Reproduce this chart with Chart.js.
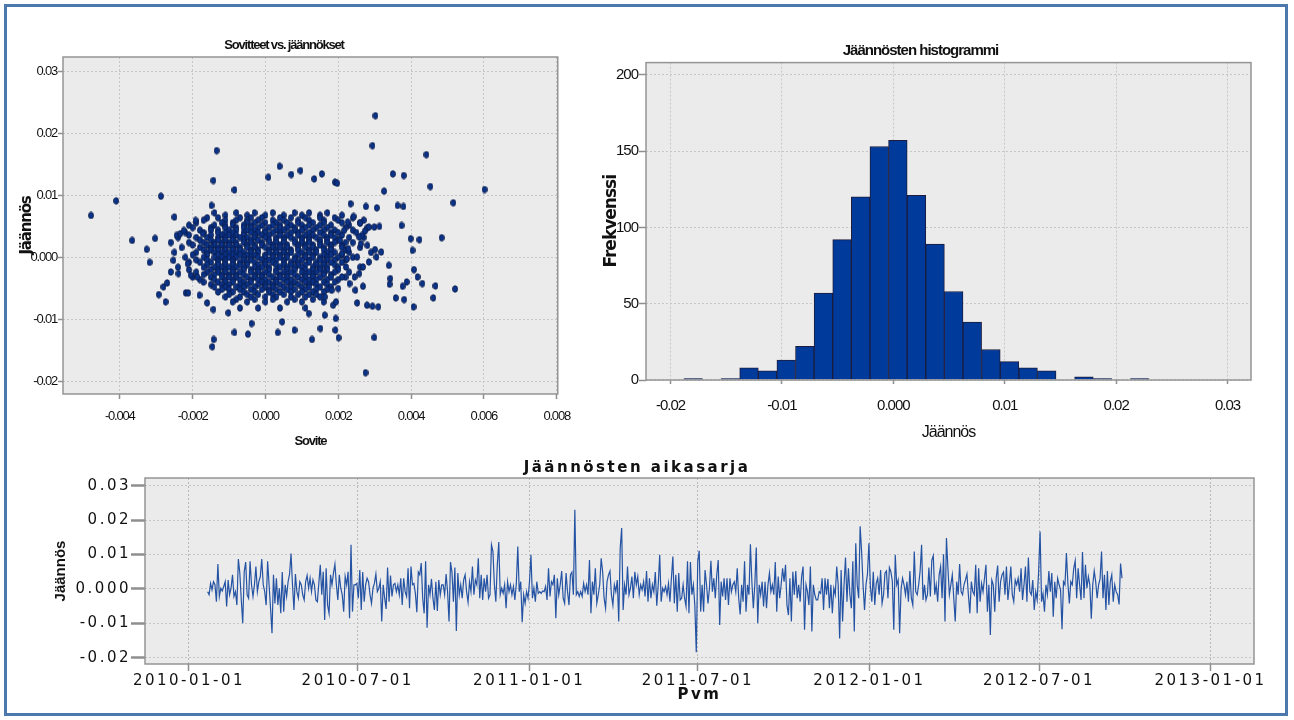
<!DOCTYPE html>
<html lang="fi">
<head>
    <meta charset="UTF-8">
    <title>Jäännösdiagnostiikka</title>
    <script src="https://cdn.jsdelivr.net/npm/chart.js"></script>
    <style>
        body {
            margin: 0;
            background: #fff;
            width: 1294px;
            height: 720px;
            overflow: hidden;
            position: relative;
        }

        #frame {
            position: absolute;
            left: 4px;
            top: 4px;
            width: 1278px;
            height: 706px;
            border: 3px solid #4b78ad;
        }

        canvas {
            position: absolute;
        }

        #scatterChart { left: 10px; top: 30px; }
        #histChart { left: 590px; top: 30px; }
        #seriesChart { left: 20px; top: 452px; }
    </style>
</head>
<body>
    <div id="frame"></div>
    <canvas id="scatterChart" width="570" height="430"></canvas>
    <canvas id="histChart" width="690" height="420"></canvas>
    <canvas id="seriesChart" width="1258" height="258"></canvas>

    <script>
        // --- Sovitteet vs. jäännökset: rows of the dense core (y value, x values) ---
        const scatterRowY = [0.0072, 0.0068, 0.0064, 0.0060, 0.0056, 0.0052, 0.0048, 0.0044, 0.0040, 0.0036,
            0.0032, 0.0028, 0.0024, 0.0020, 0.0016, 0.0012, 0.0008, 0.0004, 0.0000, -0.0004,
            -0.0008, -0.0012, -0.0016, -0.0020, -0.0024, -0.0028, -0.0032, -0.0036, -0.0040, -0.0044,
            -0.0048, -0.0052, -0.0056, -0.0060, -0.0064, -0.0068, -0.0072, -0.0082];
        const scatterRowX = [
            [-0.0014, -0.0008, -0.0003, 0.0002, 0.0008, 0.0012, 0.0017],
            [-0.0011, -0.0005, 0.0000, 0.0005, 0.0010, 0.0015, 0.0021],
            [-0.0016, -0.0013, -0.0007, -0.0004, -0.0001, 0.0004, 0.0007, 0.0011, 0.0015, 0.0019, 0.0024],
            [-0.0017, -0.0011, -0.0008, -0.0005, -0.0002, 0.0002, 0.0005, 0.0009, 0.0012, 0.0016, 0.0020, 0.0027],
            [-0.0019, -0.0012, -0.0009, -0.0005, -0.0003, 0.0000, 0.0003, 0.0006, 0.0009, 0.0013, 0.0016, 0.0021, 0.0026],
            [-0.0021, -0.0014, -0.0011, -0.0009, -0.0006, -0.0004, -0.0001, 0.0002, 0.0004, 0.0007, 0.0010, 0.0012, 0.0015, 0.0018, 0.0023],
            [-0.0020, -0.0015, -0.0011, -0.0008, -0.0006, -0.0004, -0.0002, 0.0001, 0.0004, 0.0006, 0.0008, 0.0011, 0.0014, 0.0017, 0.0022, 0.0028],
            [-0.0018, -0.0015, -0.0013, -0.0010, -0.0008, -0.0005, -0.0003, 0.0000, 0.0003, 0.0005, 0.0008, 0.0010, 0.0013, 0.0016, 0.0019, 0.0024],
            [-0.0022, -0.0017, -0.0013, -0.0011, -0.0009, -0.0006, -0.0004, -0.0002, 0.0000, 0.0002, 0.0004, 0.0007, 0.0009, 0.0012, 0.0015, 0.0018, 0.0020, 0.0025],
            [-0.0021, -0.0015, -0.0012, -0.0010, -0.0008, -0.0006, -0.0003, -0.0001, 0.0001, 0.0004, 0.0006, 0.0009, 0.0011, 0.0013, 0.0016, 0.0018, 0.0021],
            [-0.0024, -0.0019, -0.0016, -0.0013, -0.0011, -0.0009, -0.0007, -0.0005, -0.0003, 0.0000, 0.0003, 0.0005, 0.0007, 0.0010, 0.0012, 0.0014, 0.0017, 0.0019, 0.0023, 0.0027],
            [-0.0018, -0.0015, -0.0013, -0.0011, -0.0009, -0.0006, -0.0004, -0.0002, 0.0001, 0.0003, 0.0005, 0.0008, 0.0010, 0.0012, 0.0015, 0.0017, 0.0020],
            [-0.0026, -0.0021, -0.0017, -0.0014, -0.0012, -0.0010, -0.0008, -0.0006, -0.0004, -0.0001, 0.0001, 0.0003, 0.0005, 0.0008, 0.0010, 0.0012, 0.0015, 0.0017, 0.0019, 0.0022, 0.0024],
            [-0.0020, -0.0016, -0.0014, -0.0012, -0.0010, -0.0008, -0.0005, -0.0003, -0.0001, 0.0002, 0.0004, 0.0006, 0.0009, 0.0011, 0.0013, 0.0015, 0.0018, 0.0021],
            [-0.0023, -0.0018, -0.0015, -0.0013, -0.0011, -0.0009, -0.0007, -0.0005, -0.0003, 0.0000, 0.0002, 0.0004, 0.0006, 0.0009, 0.0011, 0.0013, 0.0016, 0.0018, 0.0021, 0.0026],
            [-0.0017, -0.0015, -0.0013, -0.0011, -0.0009, -0.0007, -0.0004, -0.0002, 0.0001, 0.0003, 0.0005, 0.0007, 0.0009, 0.0012, 0.0014, 0.0016, 0.0018, 0.0022],
            [-0.0025, -0.0019, -0.0016, -0.0014, -0.0012, -0.0010, -0.0008, -0.0006, -0.0004, -0.0002, 0.0001, 0.0003, 0.0005, 0.0007, 0.0010, 0.0012, 0.0014, 0.0017, 0.0019, 0.0023, 0.0029],
            [-0.0020, -0.0016, -0.0013, -0.0011, -0.0009, -0.0007, -0.0005, -0.0003, 0.0000, 0.0002, 0.0004, 0.0006, 0.0009, 0.0011, 0.0013, 0.0016, 0.0018, 0.0021],
            [-0.0022, -0.0017, -0.0014, -0.0012, -0.0010, -0.0008, -0.0006, -0.0004, -0.0002, 0.0000, 0.0002, 0.0004, 0.0006, 0.0008, 0.0011, 0.0013, 0.0015, 0.0017, 0.0020, 0.0024],
            [-0.0019, -0.0016, -0.0013, -0.0011, -0.0009, -0.0006, -0.0004, -0.0001, 0.0001, 0.0003, 0.0005, 0.0008, 0.0010, 0.0012, 0.0015, 0.0017, 0.0019, 0.0022],
            [-0.0021, -0.0018, -0.0015, -0.0013, -0.0011, -0.0009, -0.0007, -0.0005, -0.0003, 0.0000, 0.0002, 0.0005, 0.0007, 0.0009, 0.0012, 0.0014, 0.0016, 0.0018, 0.0021],
            [-0.0016, -0.0013, -0.0011, -0.0009, -0.0007, -0.0005, -0.0002, 0.0000, 0.0003, 0.0005, 0.0007, 0.0009, 0.0011, 0.0014, 0.0016, 0.0019],
            [-0.0024, -0.0017, -0.0014, -0.0012, -0.0010, -0.0008, -0.0006, -0.0003, -0.0001, 0.0001, 0.0004, 0.0006, 0.0008, 0.0010, 0.0013, 0.0015, 0.0017, 0.0020, 0.0026],
            [-0.0021, -0.0015, -0.0013, -0.0011, -0.0009, -0.0006, -0.0004, -0.0002, 0.0001, 0.0003, 0.0006, 0.0008, 0.0011, 0.0013, 0.0015, 0.0017, 0.0020],
            [-0.0019, -0.0016, -0.0013, -0.0011, -0.0009, -0.0007, -0.0004, -0.0002, 0.0000, 0.0003, 0.0005, 0.0007, 0.0010, 0.0012, 0.0014, 0.0016, 0.0019, 0.0023],
            [-0.0017, -0.0014, -0.0012, -0.0010, -0.0008, -0.0006, -0.0003, -0.0001, 0.0001, 0.0004, 0.0006, 0.0008, 0.0011, 0.0013, 0.0016, 0.0018],
            [-0.0020, -0.0015, -0.0012, -0.0010, -0.0008, -0.0005, -0.0003, -0.0001, 0.0002, 0.0004, 0.0006, 0.0009, 0.0011, 0.0013, 0.0015, 0.0018, 0.0022],
            [-0.0018, -0.0014, -0.0011, -0.0009, -0.0007, -0.0004, -0.0002, 0.0000, 0.0003, 0.0005, 0.0007, 0.0010, 0.0012, 0.0014, 0.0017, 0.0020],
            [-0.0017, -0.0013, -0.0011, -0.0009, -0.0006, -0.0004, -0.0001, 0.0001, 0.0003, 0.0006, 0.0008, 0.0011, 0.0013, 0.0016, 0.0019],
            [-0.0015, -0.0012, -0.0010, -0.0007, -0.0005, -0.0002, 0.0000, 0.0002, 0.0004, 0.0007, 0.0009, 0.0012, 0.0014, 0.0017],
            [-0.0014, -0.0011, -0.0008, -0.0006, -0.0003, 0.0000, 0.0002, 0.0005, 0.0007, 0.0010, 0.0012, 0.0015, 0.0018],
            [-0.0012, -0.0010, -0.0007, -0.0004, -0.0001, 0.0001, 0.0003, 0.0006, 0.0008, 0.0011, 0.0014, 0.0017],
            [-0.0013, -0.0009, -0.0006, -0.0003, 0.0001, 0.0004, 0.0007, 0.0010, 0.0013, 0.0016],
            [-0.0010, -0.0005, -0.0002, 0.0002, 0.0005, 0.0009, 0.0012, 0.0014],
            [-0.0011, -0.0007, -0.0004, 0.0000, 0.0003, 0.0007, 0.0011, 0.0015],
            [-0.0008, -0.0003, 0.0002, 0.0008, 0.0013],
            [-0.0009, -0.0005, 0.0000, 0.0006, 0.0010, 0.0016],
            [-0.0007, -0.0002, 0.0004, 0.0011]
        ];
        // scattered points outside the core [sovite, jäännös]
        const scatterOutliers = [
            [-0.00479, 0.00677], [-0.00410, 0.00914], [-0.00366, 0.00274], [-0.00326, 0.00129], [-0.00318, -0.00081],
            [-0.00303, 0.00306], [-0.00287, 0.00989], [-0.00293, -0.00602], [-0.00274, -0.00720], [-0.00280, -0.00478],
            [-0.00270, -0.00414], [-0.00250, 0.00651], [-0.00260, -0.00237], [-0.00253, -0.00048], [-0.00244, 0.00355],
            [-0.00239, -0.00263], [-0.00234, 0.00382], [-0.00224, 0.00435], [-0.00219, -0.00575], [-0.00212, -0.00575],
            [-0.00214, -0.00102], [-0.00205, -0.00290], [-0.00192, 0.00597], [-0.00187, -0.00317], [-0.00181, -0.00613],
            [-0.00172, 0.00382], [-0.00160, -0.00737], [-0.00143, 0.01242], [-0.00134, 0.01726], [-0.00148, 0.00839],
            [-0.00143, -0.00844], [-0.00142, -0.01328], [-0.00146, -0.01446], [-0.00102, -0.00898], [-0.00085, -0.01215],
            [-0.00085, 0.01091], [-0.00048, -0.01242], [-0.00038, -0.01070], [0.00008, 0.01296], [0.00039, 0.01473],
            [0.00034, -0.01215], [0.00046, -0.01043], [0.00071, 0.01339], [0.00080, -0.01177], [0.00096, 0.01403],
            [0.00119, -0.00909], [0.00128, -0.01328], [0.00134, 0.01269], [0.00155, 0.01349], [0.00151, -0.01151],
            [0.00163, -0.00935], [0.00191, 0.01215], [0.00197, 0.01199], [0.00192, -0.01177], [0.00201, -0.01301],
            [0.00193, -0.00989], [0.00186, -0.00774], [0.00234, 0.00866], [0.00275, -0.01866], [0.00276, 0.00823],
            [0.00294, 0.01806], [0.00302, 0.02290], [0.00306, 0.00801], [0.00326, 0.01070], [0.00299, -0.01296],
            [0.00279, -0.00774], [0.00294, -0.00790], [0.00310, -0.00801], [0.00350, 0.01349], [0.00380, 0.01323],
            [0.00363, 0.00839], [0.00379, 0.00823], [0.00374, 0.00516], [0.00399, 0.00301], [0.00404, 0.00113],
            [0.00423, 0.00285], [0.00408, -0.00199], [0.00418, -0.00317], [0.00407, -0.00801], [0.00388, -0.00398],
            [0.00377, -0.00468], [0.00358, -0.00656], [0.00381, -0.00683], [0.00431, -0.00425], [0.00442, 0.01661],
            [0.00453, 0.01145], [0.00467, -0.00462], [0.00461, -0.00656], [0.00484, 0.00317], [0.00516, 0.00882],
            [0.00521, -0.00511], [0.00602, 0.01097], [0.00339, -0.00129], [0.00343, -0.00344], [0.00341, -0.00435],
            [0.00318, 0.00086], [0.00313, 0.00500], [0.00299, 0.00489], [0.00284, 0.00489], [0.00273, 0.00425],
            [0.00265, 0.00355], [0.00258, 0.00328], [0.00262, 0.00220], [0.00280, 0.00194], [0.00301, 0.00124],
            [0.00305, 0.00005], [0.00284, -0.00075], [0.00268, -0.00156], [0.00258, -0.00263], [0.00245, -0.00317],
            [0.00268, -0.00468], [0.00247, -0.00532], [0.00231, -0.00425], [0.00224, -0.00022], [0.00228, 0.00140],
            [0.00226, 0.00570], [0.00216, 0.00435], [0.00205, 0.00274], [0.00210, 0.00059], [0.00221, -0.00156],
            [0.00210, -0.00317], [0.00200, -0.00505], [0.00252, -0.00737], [0.00252, 0.00005], [0.00242, 0.00661],
            [0.00260, 0.00554], [0.00182, -0.00532], [0.00194, -0.00720], [0.00163, -0.00640]
        ];
        const scatterXTicks = [-0.004, -0.002, 0, 0.002, 0.004, 0.006, 0.008];
        const scatterXLabels = ['-0.004', '-0.002', '0.000', '0.002', '0.004', '0.006', '0.008'];
        const scatterYTicks = [-0.02, -0.01, 0, 0.01, 0.02, 0.03];
        const scatterYLabels = ['-0.02', '-0.01', '0.000', '0.01', '0.02', '0.03'];

        // --- Jäännösten histogrammi ---
        const histFirstEdge = -0.0188;
        const histBinWidth = 0.00167;
        const histCounts = [1, 0, 1, 8, 6, 13, 22, 57, 92, 120, 153, 157, 121, 89, 58, 38, 20, 12, 8, 6, 0, 2, 1, 0, 1];
        const histXTicks = [-0.02, -0.01, 0, 0.01, 0.02, 0.03];
        const histXLabels = ['-0.02', '-0.01', '0.000', '0.01', '0.02', '0.03'];
        const histYTicks = [0, 50, 100, 150, 200];

        // --- Jäännösten aikasarja ---
        const seriesStart = '2010-01-21';
        const seriesEnd = '2012-09-28';
        const seriesResiduals = [
            -0.0008, -0.0017, 0.0016, -0.0003, 0.0021, 0.0012, -0.0037, 0.0072, -0.0022, 0.0002,
            -0.0006, 0.0007, 0.0021, -0.0051, 0.0026, -0.0017, 0.0002, 0.0041, -0.0022, -0.0008,
            -0.0047, 0.0087, 0.0046, -0.0032, -0.0100, 0.0050, 0.0078, -0.0017, -0.0027, 0.0080,
            0.0012, -0.0022, 0.0012, 0.0065, -0.0008, 0.0021, 0.0036, 0.0087, 0.0012, -0.0008,
            -0.0047, 0.0080, 0.0012, -0.0056, -0.0129, 0.0041, -0.0042, 0.0031, -0.0047, 0.0002,
            -0.0071, 0.0049, -0.0066, 0.0012, -0.0022, 0.0021, 0.0043, 0.0103, 0.0012, -0.0061,
            0.0043, -0.0008, -0.0027, 0.0021, 0.0012, -0.0017, -0.0032, 0.0021, 0.0039, 0.0002,
            0.0031, -0.0008, 0.0026, 0.0012, -0.0032, -0.0037, 0.0016, 0.0070, -0.0017, 0.0050,
            -0.0090, 0.0060, -0.0047, -0.0071, 0.0041, 0.0012, 0.0046, 0.0072, 0.0012, -0.0032,
            0.0041, 0.0002, -0.0017, -0.0066, 0.0036, 0.0012, 0.0050, -0.0085, 0.0128, -0.0066,
            0.0012, 0.0012, 0.0016, -0.0027, 0.0055, -0.0061, 0.0049, -0.0037, 0.0012, 0.0031,
            0.0021, -0.0017, -0.0042, 0.0002, 0.0016, 0.0043, -0.0008, 0.0002, 0.0021, -0.0095,
            0.0012, -0.0027, -0.0058, 0.0062, -0.0037, 0.0039, -0.0022, 0.0012, 0.0016, -0.0008,
            0.0012, -0.0017, 0.0031, -0.0047, 0.0031, -0.0008, -0.0022, 0.0060, -0.0056, 0.0065,
            0.0012, 0.0016, -0.0013, -0.0068, 0.0049, 0.0041, 0.0075, -0.0027, -0.0071, 0.0080,
            -0.0113, 0.0012, -0.0017, 0.0029, -0.0027, -0.0061, 0.0021, -0.0064, 0.0026, -0.0017,
            0.0012, 0.0012, -0.0017, 0.0043, -0.0008, -0.0095, 0.0078, 0.0049, -0.0037, 0.0062,
            -0.0122, 0.0046, -0.0017, 0.0012, -0.0027, 0.0026, 0.0041, -0.0008, -0.0039, 0.0021,
            -0.0008, 0.0065, -0.0017, 0.0026, 0.0012, 0.0089, -0.0027, 0.0041, -0.0032, 0.0031,
            -0.0008, 0.0041, -0.0027, -0.0017, 0.0128, 0.0109, 0.0012, -0.0037, 0.0070, 0.0136,
            -0.0017, 0.0002, -0.0013, 0.0012, -0.0056, 0.0021,
            -0.0008, 0.0012, -0.0017, 0.0007, -0.0032, 0.0016, 0.0123, -0.0008, 0.0021, -0.0097,
            -0.0017, -0.0042, -0.0008, -0.0027, 0.0021, 0.0099, -0.0027, 0.0002, -0.0037, 0.0021,
            -0.0013, -0.0008, -0.0013, -0.0006, -0.0008, 0.0007, -0.0032, 0.0060, -0.0022, 0.0021,
            0.0012, 0.0041, -0.0085, 0.0031, -0.0017, 0.0012, 0.0052, -0.0027, -0.0042, 0.0046,
            -0.0008, -0.0047, 0.0041, 0.0049, -0.0017, 0.0230, -0.0017, -0.0008, -0.0022, -0.0008,
            -0.0022, 0.0016, -0.0008, 0.0012, -0.0017, 0.0084, -0.0071, 0.0021, -0.0017, 0.0060,
            -0.0042, -0.0017, 0.0012, 0.0089, 0.0050, -0.0027, -0.0056, 0.0021, 0.0041, 0.0052,
            -0.0017, -0.0047, 0.0012, -0.0008, 0.0026, -0.0095, 0.0118, 0.0177, -0.0061, 0.0012,
            -0.0017, 0.0065, -0.0017, 0.0002, 0.0036, -0.0027, 0.0050, 0.0012, 0.0036, -0.0017,
            0.0012, -0.0003, 0.0021, -0.0022, 0.0052, -0.0037, 0.0031, -0.0027, 0.0012, -0.0008,
            0.0049, -0.0049, 0.0012, 0.0099, -0.0037,
            0.0002, -0.0008, 0.0007, -0.0017, 0.0016, -0.0037, 0.0031, 0.0094, -0.0042, 0.0041,
            -0.0066, 0.0046, -0.0032, -0.0027, 0.0012, -0.0027, -0.0051, 0.0080, -0.0071, 0.0078,
            -0.0017, 0.0012, -0.0047, -0.0184, 0.0080, 0.0111, -0.0066, 0.0012, -0.0066, 0.0055,
            0.0012, -0.0042, 0.0002, 0.0082, -0.0008, 0.0031, -0.0027, 0.0041, 0.0084, -0.0105,
            0.0021, -0.0022, 0.0031, -0.0032, 0.0031, -0.0047, 0.0031, -0.0008, 0.0012, 0.0021,
            -0.0008, 0.0060, -0.0027, -0.0074, 0.0012, -0.0037, 0.0080, -0.0066, 0.0012, -0.0017,
            0.0130, 0.0021, -0.0056, 0.0012, 0.0120, -0.0100, 0.0012, -0.0017, 0.0021, -0.0051,
            0.0021, -0.0056, 0.0012, 0.0046, -0.0008, 0.0012, -0.0017, 0.0078, -0.0066, 0.0036,
            -0.0027, 0.0012, 0.0060, 0.0021, 0.0070, -0.0047, -0.0076, 0.0031, -0.0095, 0.0050,
            -0.0017, 0.0052, -0.0027, 0.0012, -0.0037, 0.0036, 0.0065, -0.0119, 0.0012, -0.0008,
            -0.0047, 0.0065, -0.0124, 0.0012, -0.0017, -0.0032,
            -0.0032, -0.0008, -0.0013, 0.0031, -0.0061, 0.0031, -0.0017, 0.0029, -0.0056, 0.0012,
            -0.0071, 0.0002, -0.0017, 0.0065, 0.0012, -0.0144, 0.0055, -0.0095, 0.0012, 0.0091,
            -0.0037, 0.0060, -0.0017, -0.0056, 0.0080, -0.0124, 0.0133, 0.0012, -0.0027, 0.0182,
            0.0109, 0.0012, -0.0061, 0.0012, 0.0043, 0.0133, 0.0007, -0.0037, 0.0050, -0.0047,
            0.0016, 0.0031, -0.0017, 0.0055, -0.0042, -0.0017, 0.0046, 0.0052, -0.0027, 0.0062,
            0.0050, 0.0023, -0.0119, 0.0099, 0.0012, 0.0026, -0.0129, 0.0000, 0.0031, 0.0012,
            -0.0017, 0.0021, -0.0037, 0.0052, -0.0027, -0.0047, 0.0109, -0.0008, -0.0017, 0.0012,
            0.0052, 0.0128, -0.0032, 0.0012, -0.0032, -0.0017, 0.0062, -0.0022, 0.0084, 0.0097,
            -0.0017, 0.0012, -0.0037, 0.0041, 0.0065, -0.0027, 0.0101, -0.0095, 0.0148, 0.0060,
            -0.0017, 0.0012, 0.0041, -0.0027, -0.0095, 0.0021, -0.0017, 0.0072, -0.0008, -0.0017,
            0.0012, 0.0026, 0.0043, -0.0017, -0.0071, 0.0021, -0.0008,
            -0.0017, 0.0070, -0.0071, 0.0060, -0.0037, 0.0016, -0.0008, 0.0031, 0.0070, -0.0066,
            0.0012, -0.0134, 0.0026, 0.0012, -0.0066, 0.0031, 0.0068, -0.0037, 0.0021, 0.0041,
            0.0049, -0.0017, 0.0065, -0.0032, 0.0012, 0.0065, -0.0017, -0.0037, 0.0026, 0.0012,
            0.0031, -0.0008, 0.0060, -0.0032, 0.0012, 0.0065, -0.0037, 0.0091, -0.0008, -0.0017,
            0.0026, -0.0061, -0.0008, -0.0032, 0.0050, 0.0167, -0.0037, -0.0013, -0.0066, 0.0012,
            -0.0017, 0.0052, -0.0008, 0.0046, -0.0081, 0.0021, -0.0027, 0.0031, 0.0012, -0.0003,
            -0.0117, 0.0021, 0.0012, 0.0104, 0.0016, -0.0042, 0.0021, 0.0012, 0.0060, 0.0082,
            -0.0027, 0.0060, 0.0012, -0.0032, 0.0107, -0.0027, 0.0070, 0.0002, 0.0036, 0.0012,
            -0.0087, 0.0012, 0.0052, 0.0021, -0.0027, 0.0012, 0.0029, 0.0109, -0.0027, 0.0041,
            -0.0061, 0.0052, -0.0047, 0.0021, 0.0041, -0.0037, 0.0012, -0.0008, -0.0017, -0.0045,
            0.0074, 0.0031
        ];
        const seriesXTicks = ['2010-01-01', '2010-07-01', '2011-01-01', '2011-07-01', '2012-01-01', '2012-07-01', '2013-01-01'];
        const seriesYTicks = [-0.02, -0.01, 0, 0.01, 0.02, 0.03];
        const seriesYLabels = ['-0.02', '-0.01', '0.000', '0.01', '0.02', '0.03'];

        const NARROW = "'Liberation Sans Narrow', 'Liberation Sans', sans-serif";
        const WIDE = "'DejaVu Sans', sans-serif";
        Chart.defaults.color = '#111';

        // grey plot background and frame
        const plotFrame = {
            id: 'plotFrame',
            beforeDraw(chart) {
                const { ctx, chartArea: a } = chart;
                ctx.save();
                ctx.fillStyle = '#ebebeb';
                ctx.fillRect(a.left, a.top, a.right - a.left, a.bottom - a.top);
                ctx.restore();
            },
            afterDraw(chart) {
                const { ctx, chartArea: a } = chart;
                ctx.save();
                ctx.strokeStyle = '#959595';
                ctx.lineWidth = 1.5;
                ctx.strokeRect(a.left, a.top, a.right - a.left, a.bottom - a.top);
                ctx.restore();
            }
        };

        // letter spacing for a whole chart (squeezed or stretched lettering),
        // optionally leaving the y axis title untouched
        function letterSpacing(spacing, plainYTitle) {
            return {
                id: 'letterSpacing',
                beforeLayout(chart) { chart.ctx.letterSpacing = spacing; },
                beforeDraw(chart) {
                    chart.ctx.letterSpacing = spacing;
                    const y = chart.scales.y;
                    if (plainYTitle && !y._plainTitle) {
                        const drawTitle = y.drawTitle.bind(y);
                        y.drawTitle = function () {
                            this.ctx.letterSpacing = '0px';
                            drawTitle();
                            this.ctx.letterSpacing = spacing;
                        };
                        y._plainTitle = true;
                    }
                }
            };
        }

        function gridOpts(tickLength) {
            return { color: '#c6c6c6', lineWidth: 1, tickLength: tickLength, tickColor: '#8f8f8f', tickWidth: 1.5, tickBorderDash: [] };
        }
        function fixedTicks(values) {
            return scale => { scale.ticks = values.map(v => ({ value: v })); };
        }

        // small tall oval marker like the original points
        const dot = document.createElement('canvas');
        dot.width = 6;
        dot.height = 8;
        const dctx = dot.getContext('2d');
        dctx.beginPath();
        dctx.ellipse(3, 4, 2.5, 3.3, 0, 0, Math.PI * 2);
        dctx.fillStyle = '#0b3389';
        dctx.fill();
        dctx.lineWidth = 0.8;
        dctx.strokeStyle = '#0a1a44';
        dctx.stroke();

        // ---------- scatter ----------
        const scatterData = [];
        scatterRowY.forEach((y, i) => scatterRowX[i].forEach(x => scatterData.push({ x: x, y: y })));
        scatterOutliers.forEach(p => scatterData.push({ x: p[0], y: p[1] }));

        new Chart(document.getElementById('scatterChart'), {
            type: 'scatter',
            data: {
                datasets: [{
                    data: scatterData,
                    pointStyle: dot,
                    pointRadius: 3,
                    pointHoverRadius: 3
                }]
            },
            options: {
                responsive: false,
                animation: false,
                layout: { padding: { left: 0, right: 22, top: 0, bottom: 0 } },
                plugins: {
                    legend: { display: false },
                    tooltip: { enabled: false },
                    title: {
                        display: true,
                        text: 'Sovitteet vs. jäännökset',
                        color: '#111',
                        font: { family: NARROW, size: 13, weight: 'bold' },
                        padding: { top: 8, bottom: 3.4 }
                    }
                },
                scales: {
                    x: {
                        type: 'linear',
                        min: -0.00556,
                        max: 0.00803,
                        afterBuildTicks: fixedTicks(scatterXTicks),
                        afterFit: s => { s.height = 66; },
                        grid: gridOpts(5),
                        border: { display: false, dash: [2, 2] },
                        ticks: {
                            autoSkip: false, maxRotation: 0, padding: 10,
                            font: { family: NARROW, size: 13 },
                            callback: v => scatterXLabels[scatterXTicks.indexOf(v)]
                        },
                        title: {
                            display: true, text: 'Sovite',
                            font: { family: NARROW, size: 13, weight: 'bold' },
                            padding: { top: 0, bottom: 11 }
                        }
                    },
                    y: {
                        type: 'linear',
                        min: -0.0221,
                        max: 0.0324,
                        afterBuildTicks: fixedTicks(scatterYTicks),
                        afterFit: s => { s.width = 53; },
                        grid: gridOpts(5),
                        border: { display: false, dash: [2, 2] },
                        ticks: {
                            autoSkip: false, padding: 1,
                            font: { family: NARROW, size: 13 },
                            callback: v => scatterYLabels[scatterYTicks.indexOf(v)]
                        },
                        title: {
                            display: true, text: 'Jäännös',
                            font: { family: WIDE, size: 15, weight: 'bold' },
                            padding: { top: 8, bottom: 0 }
                        }
                    }
                }
            },
            plugins: [plotFrame, letterSpacing('-1.2px', false)]
        });

        // ---------- histogram ----------
        const histData = histCounts.map((c, k) => ({
            x: histFirstEdge + (k + 0.5) * histBinWidth,
            y: c === 0 ? null : c
        }));

        new Chart(document.getElementById('histChart'), {
            type: 'bar',
            data: {
                datasets: [{
                    data: histData,
                    backgroundColor: '#003a9b',
                    borderColor: '#1c1c3c',
                    borderWidth: 1,
                    barPercentage: 1,
                    categoryPercentage: 1
                }]
            },
            options: {
                responsive: false,
                animation: false,
                layout: { padding: { left: 0, right: 29, top: 0, bottom: 0 } },
                plugins: {
                    legend: { display: false },
                    tooltip: { enabled: false },
                    title: {
                        display: true,
                        text: 'Jäännösten histogrammi',
                        color: '#111',
                        font: { family: NARROW, size: 15, weight: 'bold' },
                        padding: { top: 12, bottom: 2.6 }
                    }
                },
                scales: {
                    x: {
                        type: 'linear',
                        offset: false,
                        min: -0.0222,
                        max: 0.0321,
                        afterBuildTicks: fixedTicks(histXTicks),
                        afterFit: s => { s.height = 70; },
                        grid: Object.assign(gridOpts(4), { offset: false }),
                        border: { display: false, dash: [2, 2] },
                        ticks: {
                            autoSkip: false, maxRotation: 0, padding: 13,
                            font: { family: NARROW, size: 15 },
                            callback: v => histXLabels[histXTicks.indexOf(v)]
                        },
                        title: {
                            display: true, text: 'Jäännös',
                            font: { family: NARROW, size: 16 },
                            padding: { top: 0, bottom: 7.5 }
                        }
                    },
                    y: {
                        type: 'linear',
                        min: 0,
                        max: 208,
                        afterBuildTicks: fixedTicks(histYTicks),
                        afterFit: s => { s.width = 56; },
                        grid: gridOpts(7),
                        border: { display: false, dash: [2, 2] },
                        ticks: {
                            autoSkip: false, padding: 1,
                            font: { family: NARROW, size: 15 }
                        },
                        title: {
                            display: true, text: 'Frekvenssi',
                            font: { family: WIDE, size: 17, weight: 'bold' },
                            padding: { top: 11, bottom: 0 }
                        }
                    }
                }
            },
            plugins: [plotFrame, letterSpacing('-1px', false)]
        });

        // ---------- time series ----------
        const DAY = 86400000;
        const dayOf = s => (Date.parse(s) - Date.parse('2010-01-01')) / DAY;
        const firstDay = dayOf(seriesStart);
        const stepDays = (dayOf(seriesEnd) - firstDay) / (seriesResiduals.length - 1);
        const seriesData = seriesResiduals.map((v, i) => ({ x: firstDay + i * stepDays, y: v }));
        const seriesTickDays = seriesXTicks.map(dayOf);

        new Chart(document.getElementById('seriesChart'), {
            type: 'line',
            data: {
                datasets: [{
                    data: seriesData,
                    borderColor: '#2553a4',
                    borderWidth: 1.2,
                    pointRadius: 0,
                    tension: 0,
                    fill: false
                }]
            },
            options: {
                responsive: false,
                animation: false,
                layout: { padding: { left: 0, right: 24, top: 0, bottom: 0 } },
                plugins: {
                    legend: { display: false },
                    tooltip: { enabled: false },
                    title: {
                        display: true,
                        text: 'Jäännösten aikasarja',
                        color: '#111',
                        font: { family: WIDE, size: 15, weight: 'bold' },
                        padding: { top: 7.5, bottom: 0.5 }
                    }
                },
                scales: {
                    x: {
                        type: 'linear',
                        min: -47.2,
                        max: 1142.6,
                        afterBuildTicks: fixedTicks(seriesTickDays),
                        afterFit: s => { s.height = 46; },
                        grid: Object.assign(gridOpts(7), { color: '#b9b9b9' }),
                        border: { display: false, dash: [2, 2] },
                        ticks: {
                            autoSkip: false, maxRotation: 0, padding: 1,
                            font: { family: WIDE, size: 15 },
                            callback: v => seriesXTicks[seriesTickDays.indexOf(v)]
                        },
                        title: {
                            display: true, text: 'Pvm',
                            font: { family: WIDE, size: 15, weight: 'bold' },
                            padding: { top: 0, bottom: 6 }
                        }
                    },
                    y: {
                        type: 'linear',
                        min: -0.02183,
                        max: 0.03224,
                        afterBuildTicks: fixedTicks(seriesYTicks),
                        afterFit: s => { s.width = 125; },
                        grid: Object.assign(gridOpts(14), { tickWidth: 2.5 }),
                        border: { display: false, dash: [2, 2] },
                        ticks: {
                            autoSkip: false, padding: 0,
                            font: { family: WIDE, size: 15 },
                            callback: v => seriesYLabels[seriesYTicks.indexOf(v)]
                        },
                        title: {
                            display: true, text: 'Jäännös',
                            font: { family: NARROW, size: 15, weight: 'bold' },
                            padding: { top: 31.6, bottom: 0 }
                        }
                    }
                }
            },
            plugins: [plotFrame, letterSpacing('2.5px', true)]
        });
    </script>
</body>
</html>
